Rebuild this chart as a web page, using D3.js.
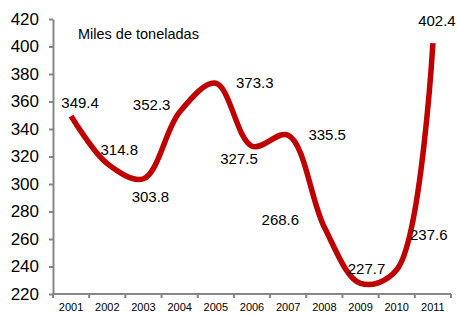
<!DOCTYPE html>
<html>
<head>
<meta charset="utf-8">
<script src="https://cdn.jsdelivr.net/npm/d3@7"></script>
<style>
  html, body { margin: 0; padding: 0; background: #fff; }
  svg { display: block; font-family: "Liberation Sans", Arial, sans-serif; }
</style>
</head>
<body>
<div id="chart"></div>
<script>
// Data
const years = ["2001", "2002", "2003", "2004", "2005", "2006", "2007", "2008", "2009", "2010", "2011"];
const values = [349.4, 314.8, 303.8, 352.3, 373.3, 327.5, 335.5, 268.6, 227.7, 237.6, 402.4];
const yTicks = [220, 240, 260, 280, 300, 320, 340, 360, 380, 400, 420];

// Data label offsets from each point (pixels)
const labelDx = [9, 12, 7, -28, 39, -13, 39, -44, 6, 32, 4];
const labelDy = [-13, -14, 18, -7, 0, 13, 0, -7, -15, -35, -22];

const width = 457, height = 314;
const plotLeft = 53, plotRight = 451, plotTop = 19, plotBottom = 294;

const svg = d3.select("#chart").append("svg")
    .attr("width", width)
    .attr("height", height);

const x = d3.scaleBand().domain(years).range([plotLeft, plotRight]).padding(0);
const y = d3.scaleLinear().domain([220, 420]).range([plotBottom, plotTop]);

const axisColor = "#868686";

// Y axis
const yAxis = svg.append("g")
    .attr("transform", `translate(${plotLeft},0)`)
    .call(d3.axisLeft(y).tickValues(yTicks).tickSize(4).tickSizeOuter(0).tickPadding(10));
yAxis.select(".domain").attr("stroke", axisColor).attr("stroke-width", 2);
yAxis.selectAll(".tick line").attr("stroke", axisColor).attr("stroke-width", 2);
yAxis.selectAll(".tick text")
    .attr("fill", "#000")
    .style("font-size", "17px")
    .style("font-family", "'Liberation Sans', Arial, sans-serif");

// X axis (labels centred in bands, ticks at band edges)
const xAxis = svg.append("g")
    .attr("transform", `translate(0,${plotBottom})`)
    .call(d3.axisBottom(x).tickSize(0).tickSizeOuter(0).tickPadding(9));
xAxis.select(".domain").attr("stroke", axisColor).attr("stroke-width", 2)
    .attr("d", `M${plotLeft - 1},0H${plotRight}`);
xAxis.selectAll(".tick text")
    .attr("fill", "#000")
    .style("font-size", "11px")
    .style("font-family", "'Liberation Sans', Arial, sans-serif");

const edges = years.map(d => x(d)).concat([x(years[years.length - 1]) + x.bandwidth()]);
svg.append("g")
    .selectAll("line")
    .data(edges)
    .enter().append("line")
    .attr("x1", d => d)
    .attr("x2", d => d)
    .attr("y1", plotBottom)
    .attr("y2", plotBottom + 4)
    .attr("stroke", axisColor)
    .attr("stroke-width", 2);

// Unit title
svg.append("text")
    .attr("x", 78)
    .attr("y", 39)
    .text("Miles de toneladas")
    .style("font-size", "14.5px")
    .attr("fill", "#000");

// Smoothed line
const points = years.map((d, i) => ({ year: d, value: values[i] }));
const line = d3.line()
    .x(d => x(d.year) + x.bandwidth() / 2)
    .y(d => y(d.value))
    .curve(d3.curveCatmullRom.alpha(0.5));

svg.append("path")
    .datum(points)
    .attr("d", line)
    .attr("fill", "none")
    .attr("stroke", "#C00000")
    .attr("stroke-width", 5.5)
    .attr("stroke-linejoin", "round");

// Data labels
svg.append("g")
    .selectAll("text")
    .data(points)
    .enter().append("text")
    .attr("x", (d, i) => x(d.year) + x.bandwidth() / 2 + labelDx[i])
    .attr("y", (d, i) => y(d.value) + labelDy[i])
    .attr("dy", "0.35em")
    .attr("text-anchor", "middle")
    .text(d => d.value.toFixed(1))
    .style("font-size", "15px")
    .attr("fill", "#000");
</script>
</body>
</html>
